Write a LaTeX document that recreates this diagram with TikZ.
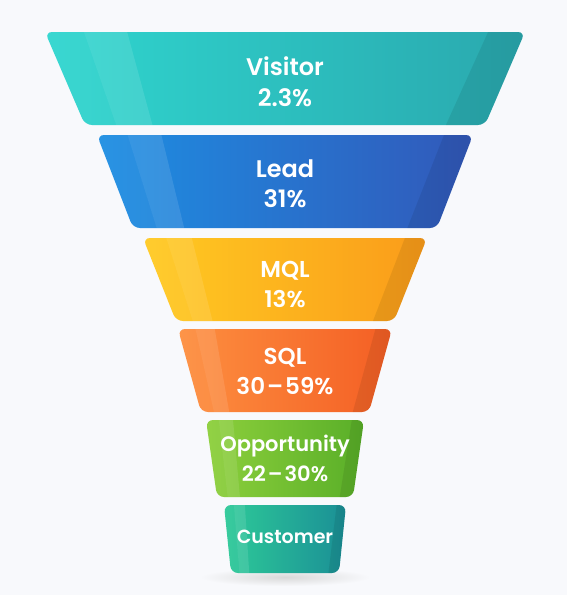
\documentclass[tikz,border=0pt]{standalone}
\usepackage{fontspec}
\setmainfont{Poppins}[BoldFont={* SemiBold}]
\definecolor{bgc}{HTML}{F8F9FC}
\definecolor{visL}{HTML}{2FD6CF}
\definecolor{visR}{HTML}{2AA8AE}
\definecolor{leaL}{HTML}{1D8FE3}
\definecolor{leaR}{HTML}{3258B9}
\definecolor{mqlL}{HTML}{FFCB22}
\definecolor{mqlR}{HTML}{FA9B1A}
\definecolor{sqlL}{HTML}{FD9040}
\definecolor{sqlR}{HTML}{F45E24}
\definecolor{oppL}{HTML}{8ED03C}
\definecolor{oppR}{HTML}{58AE28}
\definecolor{cusL}{HTML}{2ECB98}
\definecolor{cusR}{HTML}{1A8E96}
\newcommand\funnelstage[6]{%
  \begin{scope}
    \path[clip, rounded corners=7pt] (285-#3,#1) -- (285+#3,#1) -- (285+#4,#2) -- (285-#4,#2) -- cycle;
    \shade[left color=#5, right color=#6] (285-#3-2,#1-2) rectangle (285+#3+2,#2+2);
    \fill[white, opacity=0.05] (285-#3-5,#1-2) -- (285-0.84*#3,#1-2) -- (285-0.84*#4,#2+2) -- (285-#4-5,#2+2) -- cycle;
    \fill[white, opacity=0.11] (285-0.84*#3,#1-2) -- (285-0.66*#3,#1-2) -- (285-0.66*#4,#2+2) -- (285-0.84*#4,#2+2) -- cycle;
    \fill[black, opacity=0.08] (285+0.85*#3,#1-2) -- (285+#3+5,#1-2) -- (285+#4+5,#2+2) -- (285+0.8*#4,#2+2) -- cycle;
  \end{scope}}
\newcommand\rng[2]{#1\kern2pt–\kern2pt#2}
\tikzset{lbl/.style={text=white, font=\bfseries, align=center, inner sep=0pt}}
\begin{document}
\begin{tikzpicture}[x=1pt, y=-1pt]
  \fill[bgc] (0,0) rectangle (567,595);
  \useasboundingbox (0,0) rectangle (567,595);
  % shadow under customer
  \shade[inner color=gray!30, outer color=bgc] (285,577) ellipse (85 and 9);
  \funnelstage{32}{125}{240}{200}{visL}{visR}
  \funnelstage{135}{228}{188}{152}{leaL}{leaR}
  \funnelstage{238}{321}{142}{109}{mqlL}{mqlR}
  \funnelstage{329}{412}{107}{84}{sqlL}{sqlR}
  \funnelstage{420}{497}{79}{68}{oppL}{oppR}
  \funnelstage{505}{573}{61}{54}{cusL}{cusR}
  \node[lbl, font=\bfseries\fontsize{24}{31}\selectfont] (visitor) at (285,82) {Visitor\\2.3\%};
  \node[lbl, font=\bfseries\fontsize{24}{30}\selectfont] (lead) at (285,184) {Lead\\31\%};
  \node[lbl, font=\bfseries\fontsize{23}{30}\selectfont] (mql) at (285,284) {MQL\\13\%};
  \node[lbl, font=\bfseries\fontsize{23}{30}\selectfont] (sql) at (285,371) {SQL\\\rng{30}{59\%}};
  \node[lbl, font=\bfseries\fontsize{21}{30}\selectfont] (opp) at (285,458) {Opportunity\\\rng{22}{30\%}};
  \node[lbl, font=\bfseries\fontsize{19}{20}\selectfont] (cust) at (285,537) {Customer};
\end{tikzpicture}
\end{document}
